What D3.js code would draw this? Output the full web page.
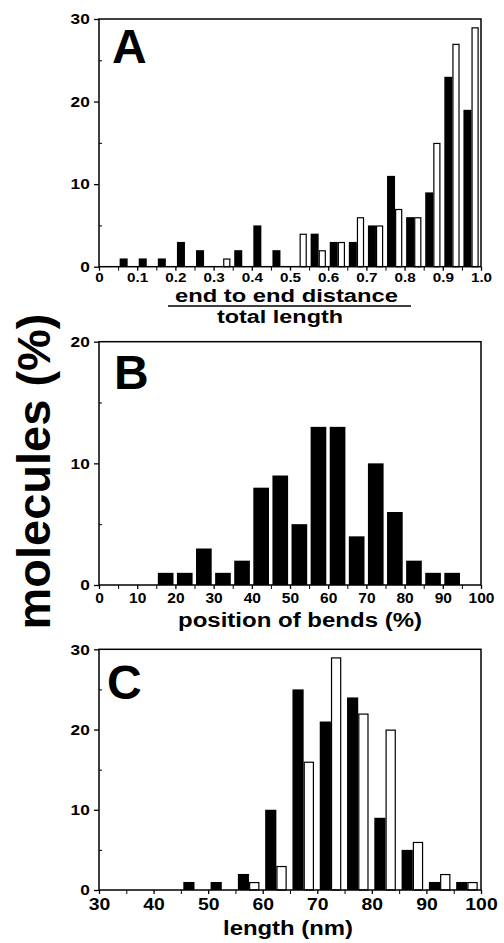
<!DOCTYPE html>
<html>
<head>
<meta charset="utf-8">
<script src="https://cdn.jsdelivr.net/npm/d3@7"></script>
<style>
  body { margin: 0; background: #fff; }
  text { font-family: "Liberation Sans", Arial, Helvetica, sans-serif; font-weight: bold; fill: #000; }
</style>
</head>
<body>
<svg id="chart" width="504" height="943"></svg>
<script>
// ---- data ----
// A: end to end distance / total length, bins of 0.05 starting at these values
var aBins  = [0.05, 0.10, 0.15, 0.20, 0.25, 0.30, 0.35, 0.40, 0.45, 0.50, 0.55, 0.60, 0.65, 0.70, 0.75, 0.80, 0.85, 0.90, 0.95];
var aBlack = [1, 1, 1, 3, 2, 0, 2, 5, 2, 0, 4, 3, 3, 5, 11, 6, 9, 23, 19];
var aWhite = [0, 0, 0, 0, 0, 1, 0, 0, 0, 4, 2, 3, 6, 5, 7, 6, 15, 27, 29];

// B: position of bends (%), bins of 5
var bBins  = [15, 20, 25, 30, 35, 40, 45, 50, 55, 60, 65, 70, 75, 80, 85, 90];
var bBlack = [1, 1, 3, 1, 2, 8, 9, 5, 13, 13, 4, 10, 6, 2, 1, 1];

// C: length (nm), bins of 5
var cBins  = [45, 50, 55, 60, 65, 70, 75, 80, 85, 90, 95];
var cBlack = [1, 1, 2, 10, 25, 21, 24, 9, 5, 1, 1];
var cWhite = [0, 0, 1, 3, 16, 29, 22, 20, 6, 2, 1];

// tick labels
var aXTicks = [0, 0.1, 0.2, 0.3, 0.4, 0.5, 0.6, 0.7, 0.8, 0.9, 1.0];
var bXTicks = [0, 10, 20, 30, 40, 50, 60, 70, 80, 90, 100];
var cXTicks = [30, 40, 50, 60, 70, 80, 90, 100];
var aYTicks = [0, 10, 20, 30];
var bYTicks = [0, 10, 20];
var cYTicks = [0, 10, 20, 30];

var svg = d3.select("#chart");
var left = 99, right = 481;

function drawPanel(p) {
  var x = d3.scaleLinear().domain(p.xDomain).range([left, right]);
  var y = d3.scaleLinear().domain([0, p.yMax]).range([p.bottom, p.top]);
  var g = svg.append("g");

  // black bars (left half of each bin)
  var blackData = p.bins.map(function(b, i) { return { b: b, v: p.black[i] }; })
    .filter(function(d) { return d.v > 0; });
  g.selectAll("rect.black").data(blackData).enter().append("rect")
    .attr("class", "black")
    .attr("x", function(d) { return x(d.b + p.binW * p.blackSpan[0]); })
    .attr("width", function(d) { return x(d.b + p.binW * p.blackSpan[1]) - x(d.b + p.binW * p.blackSpan[0]); })
    .attr("y", function(d) { return y(d.v); })
    .attr("height", function(d) { return y(0) - y(d.v); })
    .attr("fill", "#000");

  // open bars (right half of each bin)
  if (p.white) {
    var whiteData = p.bins.map(function(b, i) { return { b: b, v: p.white[i] }; })
      .filter(function(d) { return d.v > 0; });
    g.selectAll("rect.white").data(whiteData).enter().append("rect")
      .attr("class", "white")
      .attr("x", function(d) { return x(d.b + p.binW * 0.5) + 0.6; })
      .attr("width", function(d) { return x(d.b + p.binW * 0.88) - x(d.b + p.binW * 0.5) - 1.2; })
      .attr("y", function(d) { return y(d.v) + 0.6; })
      .attr("height", function(d) { return y(0) - y(d.v) - 0.6; })
      .attr("fill", "#fff")
      .attr("stroke", "#000")
      .attr("stroke-width", 1.2);
  }

  // frame
  g.append("rect")
    .attr("x", left).attr("y", p.top)
    .attr("width", right - left).attr("height", p.bottom - p.top)
    .attr("fill", "none").attr("stroke", "#000").attr("stroke-width", 1.5);

  // x axis: minor ticks
  g.append("g")
    .attr("transform", "translate(0," + p.bottom + ")")
    .call(d3.axisBottom(x).tickValues(p.xMinor).tickSize(4).tickFormat(""))
    .call(function(a) { a.select(".domain").remove(); });

  // x axis: labelled ticks
  var xa = g.append("g")
    .attr("transform", "translate(0," + p.bottom + ")")
    .call(d3.axisBottom(x).tickValues(p.xTicks).tickSize(4).tickPadding(p.xPad).tickFormat(p.xFormat));
  xa.select(".domain").remove();
  xa.selectAll("line").attr("stroke-width", 1.3);
  xa.selectAll("text")
    .attr("font-size", p.xFont)
    .attr("transform", "scale(" + p.xStretch + ",1)");

  // y axis
  var ya = g.append("g")
    .attr("transform", "translate(" + left + ",0)")
    .call(d3.axisLeft(y).tickValues(p.yTicks).tickSize(5).tickPadding(3));
  ya.select(".domain").remove();
  ya.selectAll("line").attr("stroke-width", 1.3);
  ya.selectAll("text")
    .attr("font-size", 15)
    .attr("transform", "scale(1.15,1)");

  g.append("g")
    .attr("transform", "translate(" + left + ",0)")
    .call(d3.axisLeft(y).tickValues(p.yMinor).tickSize(-3).tickFormat(""))
    .call(function(a) { a.select(".domain").remove(); });

  // panel letter
  g.append("text")
    .attr("x", left + p.letterDx).attr("y", p.top + p.letterDy)
    .attr("font-size", 48)
    .text(p.letter);
}

drawPanel({
  letter: "A", letterDx: 13, letterDy: 44,
  xDomain: [0, 1], yMax: 30, top: 19, bottom: 266.7,
  bins: aBins, black: aBlack, white: aWhite, binW: 0.05,
  blackSpan: [0.08, 0.5],
  xTicks: aXTicks, xMinor: d3.range(0.05, 1, 0.1),
  xFormat: function(d) { return d === 0 ? "0" : d.toFixed(1); },
  xFont: 12, xPad: 2.5, xStretch: 1.27,
  yTicks: aYTicks, yMinor: [5, 15, 25]
});

drawPanel({
  letter: "B", letterDx: 15, letterDy: 47,
  xDomain: [0, 100], yMax: 20, top: 341.7, bottom: 585,
  bins: bBins, black: bBlack, white: null, binW: 5,
  blackSpan: [0.08, 0.9],
  xTicks: bXTicks, xMinor: d3.range(5, 100, 10),
  xFormat: d3.format("d"),
  xFont: 14, xPad: 4, xStretch: 1.11,
  yTicks: bYTicks, yMinor: [5, 15]
});

drawPanel({
  letter: "C", letterDx: 8, letterDy: 50,
  xDomain: [30, 100], yMax: 30, top: 649.3, bottom: 890,
  bins: cBins, black: cBlack, white: cWhite, binW: 5,
  blackSpan: [0.09, 0.5],
  xTicks: cXTicks, xMinor: d3.range(35, 100, 10),
  xFormat: d3.format("d"),
  xFont: 17, xPad: 4, xStretch: 1.14,
  yTicks: cYTicks, yMinor: [5, 15, 25]
});

// axis titles
svg.append("text")
  .attr("x", 175).attr("y", 302)
  .attr("font-size", 17.5)
  .attr("textLength", 223).attr("lengthAdjust", "spacingAndGlyphs")
  .text("end to end distance");
svg.append("line")
  .attr("x1", 168).attr("x2", 411).attr("y1", 306).attr("y2", 306)
  .attr("stroke", "#000").attr("stroke-width", 1.6);
svg.append("text")
  .attr("x", 217).attr("y", 323)
  .attr("font-size", 17.5)
  .attr("textLength", 126).attr("lengthAdjust", "spacingAndGlyphs")
  .text("total length");

svg.append("text")
  .attr("x", 178).attr("y", 627)
  .attr("font-size", 20)
  .attr("textLength", 244).attr("lengthAdjust", "spacingAndGlyphs")
  .text("position of bends (%)");

svg.append("text")
  .attr("x", 223).attr("y", 935)
  .attr("font-size", 21)
  .attr("textLength", 130).attr("lengthAdjust", "spacingAndGlyphs")
  .text("length (nm)");

svg.append("text")
  .attr("transform", "translate(50,471.5) rotate(-90)")
  .attr("text-anchor", "middle")
  .attr("font-size", 47)
  .text("molecules (%)");
</script>
</body>
</html>
